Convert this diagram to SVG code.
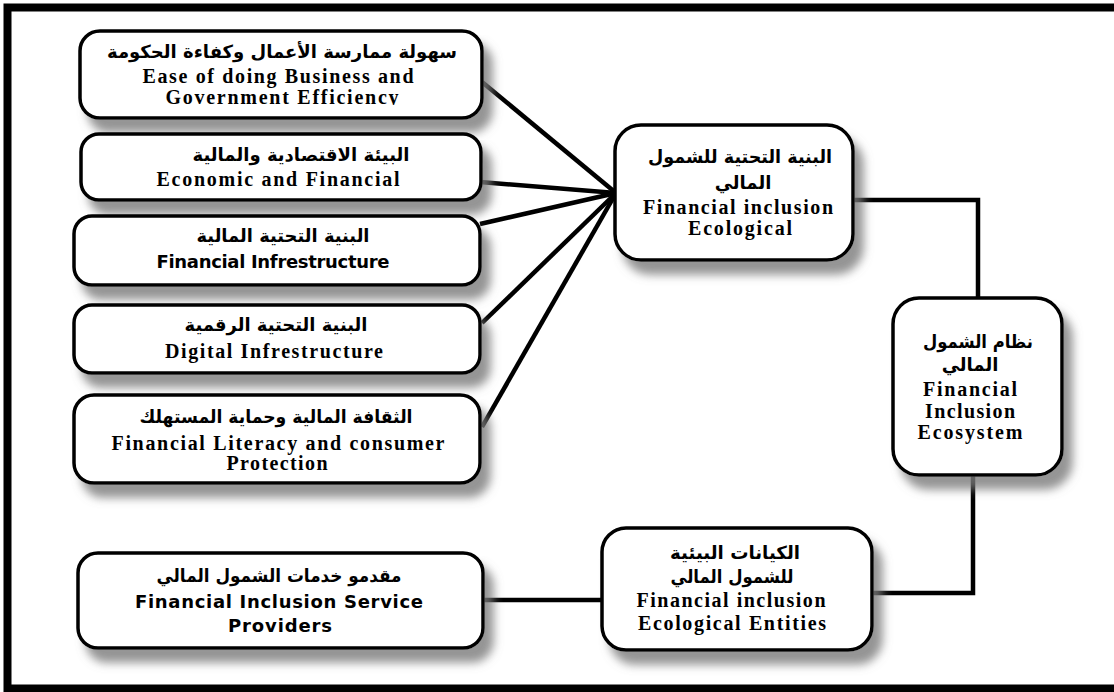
<svg xmlns="http://www.w3.org/2000/svg" width="1114" height="692" viewBox="0 0 1114 692">
<defs>
<filter id="sh" x="-10%" y="-10%" width="130%" height="150%">
<feGaussianBlur in="SourceAlpha" stdDeviation="5" result="b"/>
<feOffset in="b" dx="9" dy="13" result="o"/>
<feFlood flood-color="#7a7a7a" flood-opacity="0.8"/>
<feComposite in2="o" operator="in" result="s"/>
<feMerge><feMergeNode in="s"/><feMergeNode in="SourceGraphic"/></feMerge>
</filter>
<clipPath id="cutY"><rect x="0" y="80" width="600" height="25"/></clipPath>
</defs>
<style>
.box{fill:#fff;stroke:#000;stroke-width:3.5;filter:url(#sh)}
.ar{font-family:"DejaVu Sans",sans-serif;font-weight:bold;font-size:18px;text-anchor:middle;direction:rtl;fill:#000}
.en{font-family:"Liberation Serif","Times New Roman",serif;font-weight:bold;font-size:20px;text-anchor:middle;fill:#000}
.sa{font-family:"DejaVu Sans","Liberation Sans",sans-serif;font-weight:bold;font-size:18px;text-anchor:middle;fill:#000}
.ln{fill:none;stroke:#000;stroke-width:4.5}
</style>
<rect width="1114" height="692" fill="#fff"/>
<rect x="7.5" y="7.5" width="1120" height="681" fill="none" stroke="#000" stroke-width="8"/>
<g id="connectors">
<line class="ln" x1="482" y1="82" x2="616" y2="193"/>
<line class="ln" x1="480" y1="182" x2="616" y2="193"/>
<line class="ln" x1="480" y1="224" x2="616" y2="193"/>
<line class="ln" x1="482" y1="323" x2="616" y2="193"/>
<line class="ln" x1="482" y1="427" x2="616" y2="193"/>
<polyline class="ln" points="853,200 978,200 978,299"/>
<polyline class="ln" points="973,474 973,593 872,593"/>
<line class="ln" x1="483" y1="600" x2="602" y2="600"/>
</g>
<g id="n1"><rect class="box" x="80" y="31" width="402" height="87" rx="20"/>
<text class="ar" x="282" y="58" textLength="350" lengthAdjust="spacingAndGlyphs">سهولة ممارسة الأعمال وكفاءة الحكومة</text>
<text class="en" x="278" y="83" textLength="271" lengthAdjust="spacing">Ease of doing Business and</text>
<text class="en" x="282" y="104" textLength="233" lengthAdjust="spacing" clip-path="url(#cutY)">Government Efficiency</text></g>
<g id="n2"><rect class="box" x="81" y="134" width="400" height="66" rx="18"/>
<text class="ar" x="301" y="161" textLength="217" lengthAdjust="spacingAndGlyphs">البيئة الاقتصادية والمالية</text>
<text class="en" x="278" y="186" textLength="243" lengthAdjust="spacing">Economic and Financial</text></g>
<g id="n3"><rect class="box" x="74" y="216" width="406" height="69" rx="18"/>
<text class="ar" x="283" y="242" textLength="173" lengthAdjust="spacingAndGlyphs">البنية التحتية المالية</text>
<text class="sa" x="273" y="268" textLength="233" lengthAdjust="spacing">Financial Infrestructure</text></g>
<g id="n4"><rect class="box" x="74" y="305" width="406" height="68" rx="18"/>
<text class="ar" x="276" y="331" textLength="183" lengthAdjust="spacingAndGlyphs">البنية التحتية الرقمية</text>
<text class="en" x="274" y="358" textLength="218" lengthAdjust="spacing">Digital Infrestructure</text></g>
<g id="n5"><rect class="box" x="74" y="395" width="406" height="88" rx="20"/>
<text class="ar" x="276" y="423" textLength="273" lengthAdjust="spacingAndGlyphs">الثقافة المالية وحماية المستهلك</text>
<text class="en" x="278" y="450" textLength="333" lengthAdjust="spacing">Financial Literacy and consumer</text>
<text class="en" x="277" y="470" textLength="101" lengthAdjust="spacing">Protection</text></g>
<g id="n6"><rect class="box" x="78" y="553" width="405" height="95" rx="20"/>
<text class="ar" x="279" y="582" textLength="245" lengthAdjust="spacingAndGlyphs">مقدمو خدمات الشمول المالي</text>
<text class="sa" x="279" y="608" textLength="288" lengthAdjust="spacing">Financial Inclusion Service</text>
<text class="sa" x="280" y="632" textLength="104" lengthAdjust="spacing">Providers</text></g>
<g id="n7"><rect class="box" x="615" y="125" width="238" height="135" rx="26"/>
<text class="ar" x="740" y="163" textLength="184" lengthAdjust="spacingAndGlyphs">البنية التحتية للشمول</text>
<text class="ar" x="743" y="189">المالي</text>
<text class="en" x="738" y="214" textLength="190" lengthAdjust="spacing">Financial inclusion</text>
<text class="en" x="740" y="235" textLength="104" lengthAdjust="spacing">Ecological</text></g>
<g id="n8"><rect class="box" x="893" y="298" width="169" height="177" rx="26"/>
<text class="ar" x="978" y="348" textLength="110" lengthAdjust="spacingAndGlyphs">نظام الشمول</text>
<text class="ar" x="970" y="371">المالي</text>
<text class="en" x="970" y="396" textLength="94" lengthAdjust="spacing">Financial</text>
<text class="en" x="970" y="418" textLength="90" lengthAdjust="spacing">Inclusion</text>
<text class="en" x="970" y="439" textLength="105" lengthAdjust="spacing">Ecosystem</text></g>
<g id="n9"><rect class="box" x="602" y="528" width="270" height="122" rx="24"/>
<text class="ar" x="735" y="559" textLength="130" lengthAdjust="spacingAndGlyphs">الكيانات البيئية</text>
<text class="ar" x="732" y="583" textLength="123" lengthAdjust="spacingAndGlyphs">للشمول المالي</text>
<text class="en" x="731" y="607" textLength="189" lengthAdjust="spacing">Financial inclusion</text>
<text class="en" x="732" y="630" textLength="188" lengthAdjust="spacing">Ecological Entities</text></g>
</svg>
